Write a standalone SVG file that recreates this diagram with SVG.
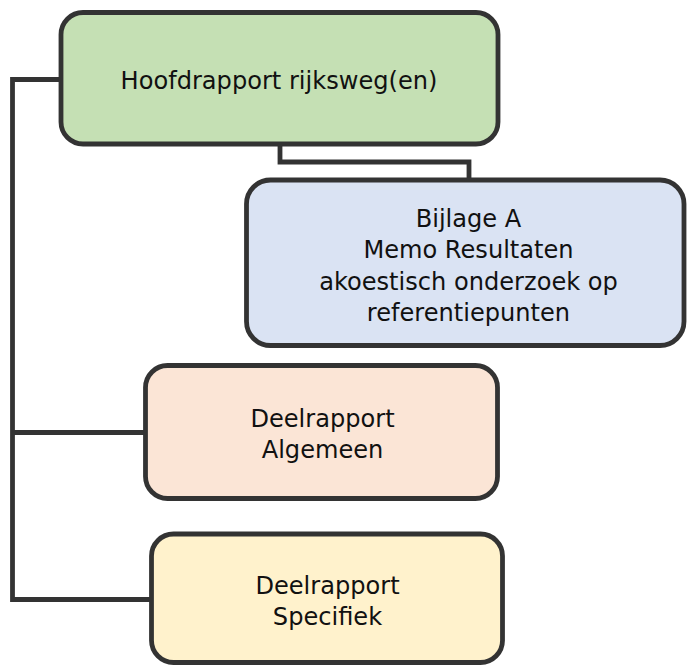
<svg xmlns="http://www.w3.org/2000/svg" width="689" height="665" viewBox="0 0 689 665">
<style>
.box{stroke:#333333;stroke-width:4.8}
.conn{fill:none;stroke:#333333;stroke-width:4.8;stroke-linejoin:miter}
text{font-family:"DejaVu Sans",Verdana,sans-serif;font-size:24.1px;fill:#111111;text-anchor:middle}
</style>
<rect width="689" height="665" fill="#ffffff"/>
<g id="connectors">
<path class="conn" d="M61 79.5 H12.5 V599.5 H151.5"/>
<path class="conn" d="M12.5 432.5 H145.5"/>
<path class="conn" d="M280 144 V162 H469 V180"/>
</g>
<g id="hoofdrapport">
<rect class="box" x="61" y="12.5" width="437" height="131.5" rx="22" fill="#c5e0b4"/>
<text x="279" y="89">Hoofdrapport rijksweg(en)</text>
</g>
<g id="bijlage-a">
<rect class="box" x="246.5" y="180" width="437.5" height="165.5" rx="24" fill="#dae3f3"/>
<text x="468.5" y="226.5">Bijlage A</text>
<text x="468.5" y="258">Memo Resultaten</text>
<text x="468.5" y="289.5">akoestisch onderzoek op</text>
<text x="468.5" y="320.5">referentiepunten</text>
</g>
<g id="deelrapport-algemeen">
<rect class="box" x="145.5" y="365.5" width="352" height="133" rx="22" fill="#fbe5d6"/>
<text x="322.5" y="426.5">Deelrapport</text>
<text x="322.5" y="458">Algemeen</text>
</g>
<g id="deelrapport-specifiek">
<rect class="box" x="151.5" y="534" width="351" height="128.5" rx="22" fill="#fff2cc"/>
<text x="327.5" y="594">Deelrapport</text>
<text x="327.5" y="625">Specifiek</text>
</g>
</svg>
